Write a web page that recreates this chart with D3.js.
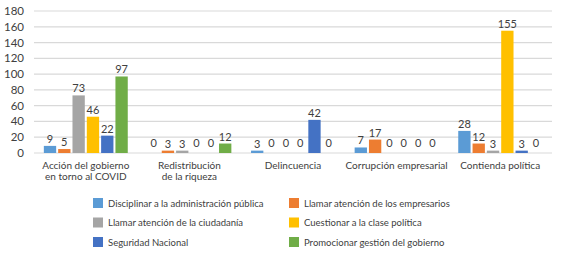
<!DOCTYPE html>
<html lang="es">
<head>
    <meta charset="UTF-8">
    <title>Temas por tipo de mensaje</title>
    <script src="https://d3js.org/d3.v7.min.js"></script>
    <style>
        body { margin: 0; background: #fff; }
        text { font-family: Lato, "Open Sans", sans-serif; fill: #404040; }
    </style>
</head>
<body>
    <div id="chart"></div>
    <script>
        // categories (two-line labels)
        const categories = [
            ["Acción del gobierno", "en torno al COVID"],
            ["Redistribución", "de la riqueza"],
            ["Delincuencia"],
            ["Corrupción empresarial"],
            ["Contienda política"]
        ];
        const seriesNames = [
            "Disciplinar a la administración pública",
            "Llamar atención de los empresarios",
            "Llamar atención de la ciudadanía",
            "Cuestionar a la clase política",
            "Seguridad Nacional",
            "Promocionar gestión del gobierno"
        ];
        // values per series, one per category
        const disciplinar = [9, 0, 3, 7, 28];
        const empresarios = [5, 3, 0, 17, 12];
        const ciudadania  = [73, 3, 0, 0, 3];
        const cuestionar  = [46, 0, 0, 0, 155];
        const seguridad   = [22, 0, 42, 0, 3];
        const promocionar = [97, 12, 0, 0, 0];
        const yTicks = [0, 20, 40, 60, 80, 100, 120, 140, 160, 180];
        const colors = ["#5B9BD5", "#ED7D31", "#A5A5A5", "#FFC000", "#4472C4", "#70AD47"];

        const series = [disciplinar, empresarios, ciudadania, cuestionar, seguridad, promocionar];

        const W = 567, H = 255;
        const plotLeft = 34, plotRight = 552, plotTop = 11, plotBottom = 153;

        const svg = d3.select("#chart").append("svg")
            .attr("width", W).attr("height", H);

        const x0 = d3.scaleBand()
            .domain(d3.range(categories.length))
            .range([plotLeft, plotRight])
            .paddingInner(0.19).paddingOuter(0.095);
        const x1 = d3.scaleBand()
            .domain(d3.range(series.length))
            .range([0, x0.bandwidth()])
            .paddingInner(0.14);
        const y = d3.scaleLinear().domain([0, 180]).range([plotBottom, plotTop]);

        // grid
        svg.append("g").selectAll("line")
            .data(yTicks)
            .join("line")
            .attr("x1", plotLeft).attr("x2", plotRight)
            .attr("y1", d => y(d)).attr("y2", d => y(d))
            .attr("stroke", "#d9d9d9").attr("stroke-width", 1.2);

        // y labels
        svg.append("g").selectAll("text")
            .data(yTicks)
            .join("text")
            .attr("x", 24).attr("y", d => y(d) + 4)
            .attr("text-anchor", "end")
            .style("font-size", "11.5px")
            .text(d => d);

        // bars
        const groups = svg.append("g").selectAll("g")
            .data(categories)
            .join("g")
            .attr("transform", (d, i) => `translate(${x0(i)},0)`);

        groups.each(function (c, ci) {
            const g = d3.select(this);
            series.forEach((s, si) => {
                const v = s[ci];
                g.append("rect")
                    .attr("x", x1(si))
                    .attr("y", y(v))
                    .attr("width", x1.bandwidth())
                    .attr("height", plotBottom - y(v))
                    .attr("fill", colors[si]);
                g.append("text")
                    .attr("x", x1(si) + x1.bandwidth() / 2)
                    .attr("y", y(v) - 3 - (v === 0 ? 3 : 0))
                    .attr("text-anchor", "middle")
                    .style("font-size", "11px")
                    .text(v);
            });
            // category label
            g.selectAll("text.cat")
                .data(c)
                .join("text")
                .attr("class", "cat")
                .attr("x", x0.bandwidth() / 2)
                .attr("y", (d, i) => 168.5 + i * 11.5)
                .attr("text-anchor", "middle")
                .style("font-size", "10px")
                .text(d => d);
        });

        // legend
        const legend = svg.append("g").selectAll("g")
            .data(seriesNames)
            .join("g")
            .attr("transform", (d, i) => `translate(${i % 2 === 0 ? 93 : 289},${198 + Math.floor(i / 2) * 19.5})`);
        legend.append("rect")
            .attr("width", 10).attr("height", 10)
            .attr("fill", (d, i) => colors[i]);
        legend.append("text")
            .attr("x", 15).attr("y", 8.5)
            .style("font-size", "9.5px")
            .text(d => d);
    </script>
</body>
</html>
